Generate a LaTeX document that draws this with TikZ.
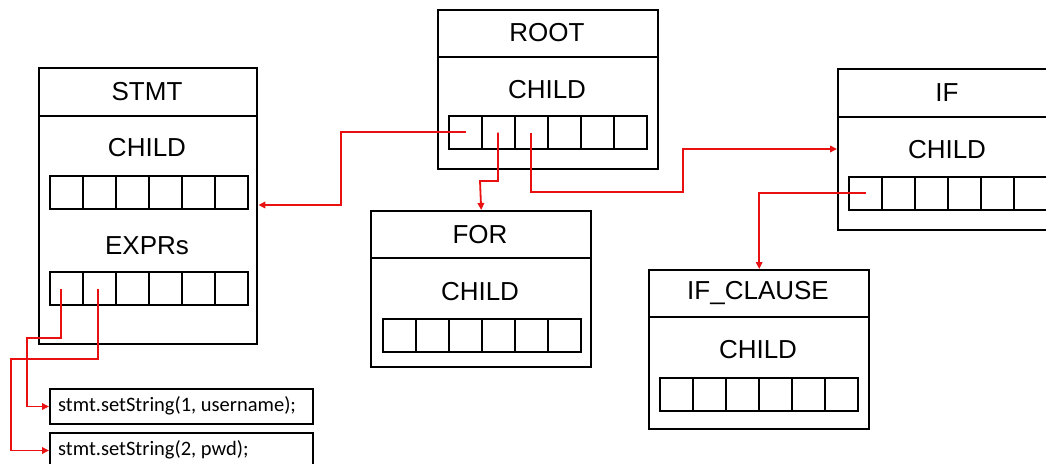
\documentclass[tikz,border=0pt]{standalone}
\usepackage{fontspec}
\setmainfont{Liberation Sans}
\newfontfamily\codefont{Carlito}
\usetikzlibrary{arrows.meta}

\definecolor{linkred}{RGB}{232,16,16}

\tikzset{
  x=1pt, y=-1pt,
  structbox/.style={draw=black, line width=2.4pt, fill=white, inner sep=0pt, anchor=north west},
  divider/.style={draw=black, line width=1.4pt},
  slot/.style={draw=black, line width=2pt, inner sep=0pt, minimum width=33pt, minimum height=33pt, anchor=north west},
  boxtext/.style={font=\fontsize{26}{30}\selectfont, inner sep=0pt},
  codebox/.style={draw=black, line width=2pt, inner sep=0pt, anchor=north west, minimum width=263pt, minimum height=35pt},
  codetext/.style={font=\codefont\fontsize{20.5}{24}\selectfont, inner sep=0pt, anchor=west},
  link/.style={draw=linkred, line width=1.8pt, -{Triangle[length=7pt,width=6.5pt]}},
}

% a row of six slots: prefix, left x, top y
\newcommand{\slotrow}[3]{%
  \foreach \k in {1,...,6}
    \node[slot] (#1-\k) at ({#2+(\k-1)*33}, #3) {};
}

\begin{document}
\begin{tikzpicture}
\useasboundingbox (0,0) rectangle (1046,463);

% ROOT
\node[structbox, minimum width=220pt, minimum height=159pt] (root) at (437,9) {};
\draw[divider] (437,57) -- (657,57);
\node[boxtext] (root-title) at (547,33) {ROOT};
\node[boxtext] (root-child) at (547,90) {CHILD};
\slotrow{root}{448}{115}

% STMT
\node[structbox, minimum width=218pt, minimum height=276pt] (stmt) at (38,67) {};
\draw[divider] (38,116) -- (256,116);
\node[boxtext] (stmt-title) at (147,92) {STMT};
\node[boxtext] (stmt-child) at (147,148) {CHILD};
\slotrow{stmtc}{49}{175}
\node[boxtext] (stmt-exprs) at (147,246) {EXPRs};
\slotrow{expr}{49}{271}

% FOR
\node[structbox, minimum width=220pt, minimum height=156pt] (for) at (370,210) {};
\draw[divider] (370,258) -- (590,258);
\node[boxtext] (for-title) at (480,235) {FOR};
\node[boxtext] (for-child) at (480,292) {CHILD};
\slotrow{for}{382}{318}

% IF
\node[structbox, minimum width=220pt, minimum height=161pt] (if) at (837,68) {};
\draw[divider] (837,117) -- (1057,117);
\node[boxtext] (if-title) at (947,93) {IF};
\node[boxtext] (if-child) at (947,150) {CHILD};
\slotrow{if}{848}{176}

% IF_CLAUSE
\node[structbox, minimum width=220pt, minimum height=159pt] (ifc) at (648,269) {};
\draw[divider] (648,317) -- (868,317);
\node[boxtext] (ifc-title) at (758,293) {IF\_CLAUSE};
\node[boxtext] (ifc-child) at (758,350) {CHILD};
\slotrow{ifc}{659}{377}

% statements
\node[codebox] (code1) at (49,388) {};
\node[codetext] (code1-text) at (58,406) {stmt.setString(1, username);};
\node[codebox] (code2) at (49,432) {};
\node[codetext] (code2-text) at (58,450) {stmt.setString(2, pwd);};

% child links
\draw[link] ([yshift=0.5pt]root-1.center) -| (341,205) -- (stmt.east |- 0,205);
\draw[link] ([xshift=-0.5pt]root-2.center) |- (480,181) -- (for.north);
\draw[link] ([xshift=-0.5pt]root-3.center) |- (683,192) |- (if.west |- 0,149);
\draw[link] ([yshift=0.5pt]if-1.center) -| (ifc.north);
\draw[link] ([xshift=-5.5pt]expr-1.center) |- (27,338) |- (code1.west);
\draw[link] ([xshift=-1.5pt]expr-2.center) |- (11,359) |- (code2.west);
\end{tikzpicture}
\end{document}
